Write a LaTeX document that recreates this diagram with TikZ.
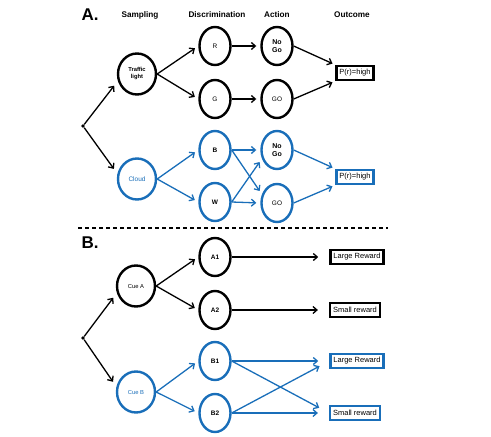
\documentclass[tikz,border=0pt]{standalone}
\usepackage{fontspec}
\setmainfont{Liberation Sans}
\usepackage{tikz}
\usetikzlibrary{shapes.geometric,arrows.meta}
\definecolor{cueblue}{RGB}{25,110,185}

\begin{document}
\begin{tikzpicture}[x=1pt, y=-1pt,
  roundnode/.style={ellipse, draw=black, line width=2.4pt, minimum width=31pt, minimum height=38pt, inner sep=0pt, align=center, font=\fontsize{6.5}{7}\selectfont},
  bignode/.style={roundnode, minimum width=38pt, minimum height=41pt},
  boxnode/.style={rectangle, draw=black, line width=2.4pt, inner xsep=3pt, inner ysep=1pt, minimum height=14pt, font=\fontsize{7.5}{8}\selectfont},
  headnode/.style={font=\bfseries\fontsize{8.2}{9}\selectfont},
  partnode/.style={font=\bfseries\fontsize{17}{18}\selectfont},
  cue/.style={draw=cueblue, text=cueblue},
  link/.style={line width=1.3pt, -{Straight Barb[length=4pt,width=7pt]}, shorten >=4pt}]
\useasboundingbox (0,0) rectangle (491,437);
% part A
\node[partnode] at (90,15) (pA) {A.};
\node[headnode] at (140,15) (hs) {Sampling};
\node[headnode] at (217,15) (hd) {Discrimination};
\node[headnode] at (277,15) (ha) {Action};
\node[headnode] at (352,15) (ho) {Outcome};
\node[circle, fill=black, inner sep=1.3pt] at (83,126) (dotA) {};
\node[bignode, font=\bfseries\fontsize{5.8}{7}\selectfont] at (137,74) (tl) {Traffic\\light};
\node[roundnode] at (215,46) (r) {R};
\node[roundnode] at (215,99) (g) {G};
\node[roundnode, font=\bfseries\fontsize{7}{8.5}\selectfont] at (277,46) (nogoA) {No\\Go};
\node[roundnode] at (277,99) (goA) {GO};
\node[boxnode] at (355,73) (outA) {P(r)=high};
\draw[link, shorten >=6pt] (dotA) -- (tl.200);
\draw[link] (tl.east) -- (r.west);
\draw[link] (tl.east) -- (g.west);
\draw[link] (r) -- (nogoA);
\draw[link] (g) -- (goA);
\draw[link, shorten >=3pt] (nogoA.east) -- (outA.north west);
\draw[link, shorten >=3pt] (goA.east) -- (outA.south west);
\node[bignode, cue] at (137,179) (cloud) {Cloud};
\node[roundnode, cue, text=black, font=\bfseries\fontsize{6.5}{7}\selectfont] at (215,150) (b) {B};
\node[roundnode, cue, text=black, font=\bfseries\fontsize{6.5}{7}\selectfont] at (215,202) (w) {W};
\node[roundnode, cue, text=black, font=\bfseries\fontsize{7}{8.5}\selectfont] at (277,150) (nogoB) {No\\Go};
\node[roundnode, cue, text=black] at (277,203) (goB) {GO};
\node[boxnode, draw=cueblue] at (355,177) (outB) {P(r)=high};
\draw[link, shorten >=6pt] (dotA) -- (cloud.165);
\draw[link, cueblue] (cloud.east) -- (b.west);
\draw[link, cueblue] (cloud.east) -- (w.west);
\draw[link, cueblue] (b.east) -- (nogoB.west);
\draw[link, cueblue] (b.east) -- (goB.150);
\draw[link, cueblue] (w.east) -- (nogoB.210);
\draw[link, cueblue] (w.east) -- (goB.west);
\draw[link, cueblue, shorten >=3pt] (nogoB.east) -- (outB.north west);
\draw[link, cueblue, shorten >=3pt] (goB.east) -- (outB.south west);
\draw[line width=2pt, dash pattern=on 4pt off 3pt] (78,228) -- (388,228);
% part B
\node[partnode] at (90,243) (pB) {B.};
\node[circle, fill=black, inner sep=1.3pt] at (83,338) (dotB) {};
\node[bignode, font=\fontsize{5.8}{7}\selectfont] at (136,286) (cueA) {Cue A};
\node[roundnode, font=\bfseries\fontsize{6.5}{7}\selectfont] at (215,257) (a1) {A1};
\node[roundnode, font=\bfseries\fontsize{6.5}{7}\selectfont] at (215,310) (a2) {A2};
\node[boxnode] at (357,257) (lr1) {Large Reward};
\node[boxnode] at (355,310) (sr1) {Small reward};
\draw[link, shorten >=6pt] (dotB) -- (cueA.200);
\draw[link] (cueA.east) -- (a1.west);
\draw[link] (cueA.east) -- (a2.west);
\draw[link, shorten >=11pt] (a1) -- (lr1.west);
\draw[link, shorten >=11pt] (a2) -- (sr1.west);
\node[bignode, cue, font=\fontsize{5.8}{7}\selectfont] at (136,392) (cueB) {Cue B};
\node[roundnode, cue, text=black, font=\bfseries\fontsize{6.5}{7}\selectfont] at (215,361) (b1) {B1};
\node[roundnode, cue, text=black, font=\bfseries\fontsize{6.5}{7}\selectfont] at (215,413) (b2) {B2};
\node[boxnode, draw=cueblue] at (357,361) (lr2) {Large Reward};
\node[boxnode, draw=cueblue] at (355,413) (sr2) {Small reward};
\draw[link, shorten >=6pt] (dotB) -- (cueB.165);
\draw[link, cueblue] (cueB.east) -- (b1.west);
\draw[link, cueblue] (cueB.east) -- (b2.west);
\draw[link, cueblue, shorten >=11pt] (b1.east) -- (lr2.west);
\draw[link, cueblue, shorten >=11pt] (b1.east) -- (sr2.west);
\draw[link, cueblue, shorten >=11pt] (b2.east) -- (lr2.west);
\draw[link, cueblue, shorten >=11pt] (b2.east) -- (sr2.west);
\end{tikzpicture}
\end{document}
